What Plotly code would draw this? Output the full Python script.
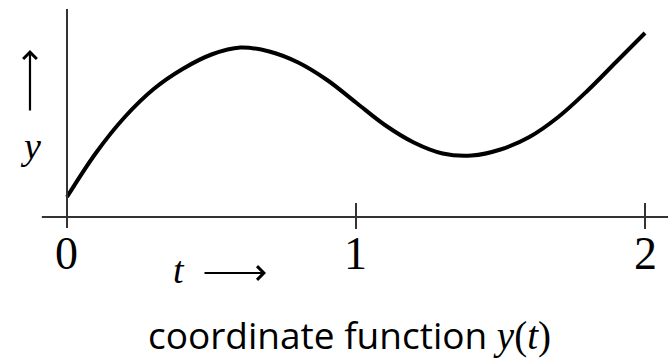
import plotly.graph_objects as go

# Coordinate function y(t), sampled every 0.1 in t
t_vals = [0.0, 0.1, 0.2, 0.3, 0.4, 0.5, 0.6, 0.7, 0.8, 0.9, 1.0,
          1.1, 1.2, 1.3, 1.4, 1.5, 1.6, 1.7, 1.8, 1.9, 2.0]
y_vals = [0.20, 0.64, 1.00, 1.28, 1.48, 1.625, 1.695, 1.655, 1.545, 1.37, 1.145,
          0.92, 0.745, 0.635, 0.615, 0.675, 0.80, 1.00, 1.26, 1.55, 1.84]

tick_vals = [0, 1, 2]
tick_text = ["0", "1", "2"]

X_RANGE = [-0.2318, 2.0796]
Y_RANGE = [-1.44, 2.17]
AXIS_COLOR = "#333333"
SERIF = "Liberation Serif"

fig = go.Figure()
fig.add_trace(go.Scatter(
    x=t_vals, y=y_vals, mode="lines",
    line=dict(color="black", width=4, shape="spline", smoothing=1.0),
    hoverinfo="skip", showlegend=False,
))

shapes = [
    # horizontal t axis
    dict(type="line", xref="x", yref="y", x0=-0.087, x1=X_RANGE[1], y0=0, y1=0,
         line=dict(color=AXIS_COLOR, width=2)),
    # vertical y axis
    dict(type="line", xref="x", yref="y", x0=0, x1=0, y0=-0.11, y1=2.08,
         line=dict(color=AXIS_COLOR, width=2)),
]
for tv in tick_vals[1:]:
    shapes.append(dict(type="line", xref="x", yref="y", x0=tv, x1=tv,
                       y0=-0.12, y1=0.14, line=dict(color=AXIS_COLOR, width=2)))

annotations = []
for tv, tt in zip(tick_vals, tick_text):
    annotations.append(dict(x=tv, y=-0.36, xref="x", yref="y", text=tt,
                            showarrow=False, yanchor="middle",
                            font=dict(family=SERIF, size=46, color="black")))

# t label with rightwards arrow
annotations.append(dict(x=(179 - 67) / 289, y=(217 - 270) / 100, xref="x", yref="y",
                        text="<i>t</i>", showarrow=False,
                        font=dict(family=SERIF, size=38, color="black")))
annotations.append(dict(x=(266 - 67) / 289, y=(217 - 273) / 100, xref="x", yref="y",
                        ax=(203 - 67) / 289, ay=(217 - 273) / 100, axref="x", ayref="y",
                        text="", showarrow=True, arrowhead=4, arrowsize=1.2,
                        arrowwidth=2.2, arrowcolor="black"))

# y label with upwards arrow
annotations.append(dict(x=(31 - 67) / 289, y=(217 - 146) / 100, xref="x", yref="y",
                        text="<i>y</i>", showarrow=False,
                        font=dict(family=SERIF, size=38, color="black")))
annotations.append(dict(x=(30 - 67) / 289, y=(217 - 50) / 100, xref="x", yref="y",
                        ax=(30 - 67) / 289, ay=(217 - 112) / 100, axref="x", ayref="y",
                        text="", showarrow=True, arrowhead=4, arrowsize=1.2,
                        arrowwidth=2.2, arrowcolor="black"))

# caption
annotations.append(dict(x=0.5225, y=(361 - 334) / 361, xref="paper", yref="paper",
                        text=("coordinate function "
                              f"<span style=\"font-family:{SERIF};font-size:39px\">"
                              "<i>y</i>(<i>t</i>)</span>"),
                        showarrow=False, yanchor="middle",
                        font=dict(family="Open Sans", size=37, color="black")))

fig.update_layout(
    width=668, height=361,
    margin=dict(l=0, r=0, t=0, b=0),
    paper_bgcolor="white", plot_bgcolor="white",
    xaxis=dict(range=X_RANGE, visible=False, fixedrange=True),
    yaxis=dict(range=Y_RANGE, visible=False, fixedrange=True),
    shapes=shapes, annotations=annotations,
    showlegend=False,
)

fig.write_html("out.html", config={"displayModeBar": False})
